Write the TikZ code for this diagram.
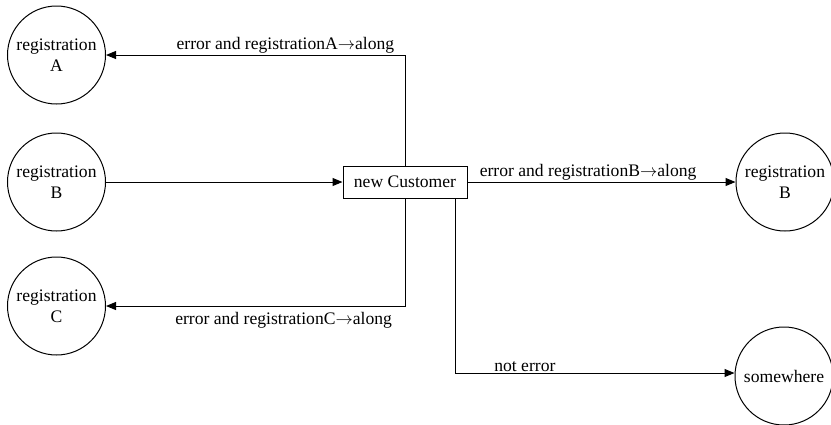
\documentclass[tikz,border=0pt]{standalone}
\usepackage{fontspec}
\setmainfont{Liberation Serif}
\usetikzlibrary{arrows.meta}
\newcommand{\goesto}{\ensuremath{\rightarrow}}
\begin{document}
\begin{tikzpicture}[x=1pt,y=-1pt,
  every node/.style={font=\fontsize{17.6}{21}\selectfont},
  state/.style={circle,draw,line width=1pt,minimum size=98pt,inner sep=0pt,align=center},
  proc/.style={rectangle,draw,line width=1pt,minimum width=124pt,minimum height=32pt,inner sep=0pt},
  flow/.style={draw,line width=1pt,-{Triangle[length=10pt,width=8pt]}},
  lbl/.style={inner sep=1pt}]
\useasboundingbox (0,0) rectangle (831,424);

\node[state] (regA)  at (56.5,55)  {registration\\A};
\node[state] (regBl) at (56.5,182) {registration\\B};
\node[state] (regC)  at (56.5,306) {registration\\C};
\node[state] (regBr) at (785,182)  {registration\\B};
\node[state] (some)  at (784,376)  {somewhere};
\node[proc]  (cust)  at (405,182)  {new Customer};

\coordinate (tA) at (cust.north |- regA);
\coordinate (tC) at (cust.south |- regC);
\coordinate (sN) at (455,198);
\coordinate (tN) at (455,373);

\draw[flow] (regBl) -- (cust);
\draw[flow] (cust.north) -- (tA)
  -- node[lbl,above,pos=0.40] {error and registrationA\goesto along} (regA);
\draw[flow] (cust.south) -- (tC)
  -- node[lbl,below=5pt,pos=0.406] {error and registrationC\goesto along} (regC);
\draw[flow] (cust) -- node[lbl,above,pos=0.45] {error and registrationB\goesto along} (regBr);
\draw[flow] (sN) -- (tN)
  -- node[lbl,above,pos=0.25] {not error} (tN -| some.west);
\end{tikzpicture}
\end{document}
